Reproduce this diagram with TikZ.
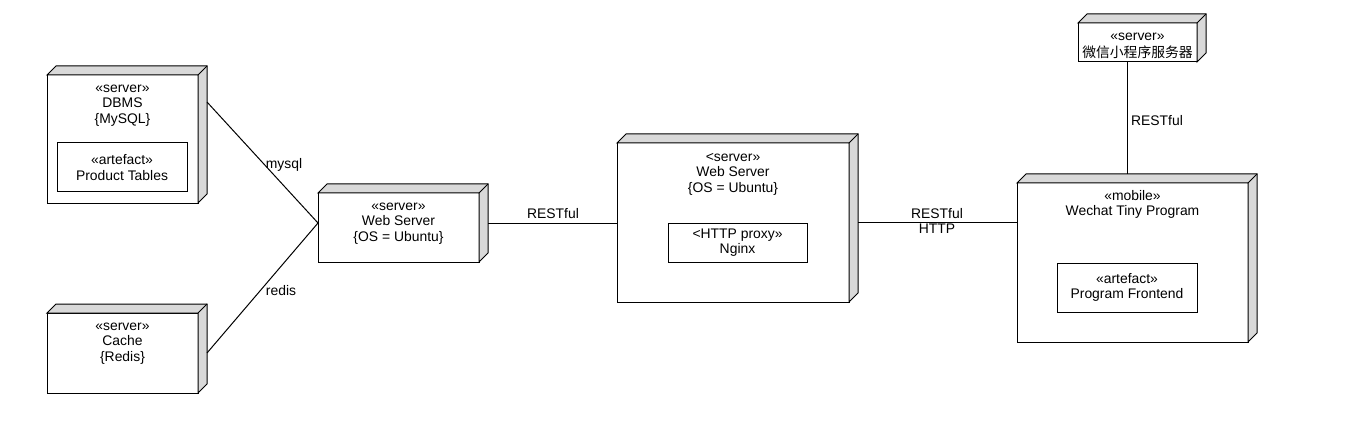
\documentclass[tikz,border=0pt]{standalone}
\usepackage{fontspec}
\setmainfont{Liberation Sans}
\newfontfamily\cjk{Noto Sans CJK SC}
\definecolor{sidegray}{HTML}{D9D9D9}
\tikzset{
  every node/.style={font=\fontsize{13.9}{15.5}\selectfont},
  front/.style={draw, line width=1pt, fill=white, inner sep=0pt, outer sep=0pt},
  artbox/.style={draw, line width=1pt, fill=white, inner sep=0pt, outer sep=0pt, align=center},
  title/.style={inner sep=0pt, outer sep=0pt, align=center, anchor=north},
  conn/.style={line width=1pt},
  lbl/.style={inner sep=0pt, align=center}
}
\newcommand\boxfaces[1]{%
  \filldraw[fill=sidegray, line width=1pt, line join=miter]
    (#1.north west) -- ([xshift=9pt,yshift=9pt]#1.north west)
    -- ([xshift=9pt,yshift=9pt]#1.north east)
    -- ([xshift=9pt,yshift=9pt]#1.south east)
    -- (#1.south east) -- (#1.north east) -- cycle;
  \draw[line width=1pt] (#1.north east) -- ([xshift=9pt,yshift=9pt]#1.north east);}
\begin{document}
\begin{tikzpicture}[x=1pt,y=-1pt]
\useasboundingbox (0,0) rectangle (1358,433);

% DBMS
\node[front, minimum width=151pt, minimum height=128pt] (dbms) at (122.5,139) {};
\boxfaces{dbms}
\node[title] (dbmsT) at ([yshift=-6.5pt]dbms.north) {\strut«server»\\DBMS\\\{MySQL\}};
\node[artbox, minimum width=130pt, minimum height=49pt] (tables) at (122,167.5) {«artefact»\\Product Tables};

% Cache
\node[front, minimum width=151pt, minimum height=80pt] (cache) at (122.5,353) {};
\boxfaces{cache}
\node[title] (cacheT) at ([yshift=-6.5pt]cache.north) {\strut«server»\\Cache\\\{Redis\}};

% Web server (left)
\node[front, minimum width=161pt, minimum height=69pt] (webl) at (398.5,227.5) {};
\boxfaces{webl}
\node[title] (weblT) at ([yshift=-6.5pt]webl.north) {\strut«server»\\Web Server\\\{OS = Ubuntu\}};

% Web server (middle)
\node[front, minimum width=232pt, minimum height=159pt] (webm) at (733,222.5) {};
\boxfaces{webm}
\node[title] (webmT) at ([yshift=-7.5pt]webm.north) {\strut<server»\\Web Server\\\{OS = Ubuntu\}};
\node[artbox, minimum width=139pt, minimum height=39pt] (nginx) at (737.5,242.5) {<HTTP proxy»\\Nginx};

% WeChat mini program server
\node[front, minimum width=119pt, minimum height=39pt] (wcs) at (1137.5,42.5) {};
\boxfaces{wcs}
\node[title] (wcsT) at ([yshift=-6.5pt]wcs.north) {\strut«server»\\{\cjk\fontsize{13.8}{15.5}\selectfont 微信小程序服务器}};

% Mobile
\node[front, minimum width=231pt, minimum height=159pt] (mobile) at (1132.5,262.5) {};
\boxfaces{mobile}
\node[title] (mobileT) at ([yshift=-6.5pt]mobile.north) {\strut«mobile»\\Wechat Tiny Program};
\node[artbox, minimum width=140pt, minimum height=49pt] (frontend) at (1127,287.5) {«artefact»\\Program Frontend};

% connectors
\coordinate (jn) at ([yshift=4.5pt]webl.west);
\coordinate (dbR) at ([xshift=9pt,yshift=-27pt]dbms.north east);
\coordinate (caR) at ([xshift=9pt]cache.east);
\coordinate (wlR) at ([xshift=9pt,yshift=4.5pt]webl.east);
\coordinate (wmR) at ([xshift=9pt]webm.east);
\coordinate (vtop) at ([xshift=-10.5pt]wcs.south);
\coordinate (mtop) at ([yshift=9pt]mobile.north);
\draw[conn] (dbR) -- (jn);
\draw[conn] (caR) -- (jn);
\draw[conn] (wlR) -- (wlR -| webm.west);
\draw[conn] (wmR) -- (wmR -| mobile.west);
\draw[conn] (vtop) -- (vtop |- mtop);

% labels
\node[lbl] (lmysql) at (284,165) {mysql};
\node[lbl] (lredis) at (281,291) {redis};
\node[lbl] (lrest1) at (553,214) {RESTful};
\node[lbl] (lrest2) at (937,221) {RESTful\\HTTP};
\node[lbl] (lrest3) at (1157,121) {RESTful};
\end{tikzpicture}
\end{document}
